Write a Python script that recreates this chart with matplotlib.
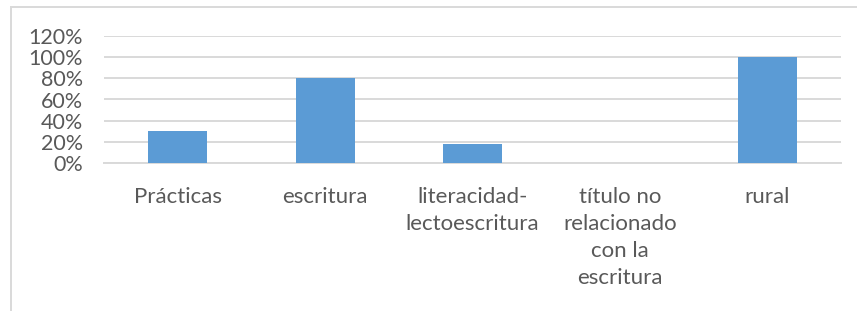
import matplotlib.pyplot as plt
from matplotlib.patches import Rectangle
from matplotlib.ticker import PercentFormatter, MultipleLocator

# Data
categories = [
    "Prácticas",
    "escritura",
    "literacidad-\nlectoescritura",
    "título no\nrelacionado\ncon la\nescritura",
    "rural",
]
values = [0.30, 0.80, 0.18, 0.0, 1.00]

BAR_COLOR = "#5B9BD5"
GRID_COLOR = "#D9D9D9"
TEXT_COLOR = "#595959"

plt.rcParams["font.family"] = ["Lato", "DejaVu Sans"]

fig = plt.figure(figsize=(8.57, 3.11), dpi=100)
W, H = 857, 311
ax = fig.add_axes([104 / W, 1 - 163 / H, (841 - 104) / W, (163 - 36) / H])

x = range(len(categories))
ax.bar(x, values, width=0.4, color=BAR_COLOR, zorder=3)

ax.set_xlim(-0.5, len(categories) - 0.5)
ax.set_ylim(0, 1.2)
ax.yaxis.set_major_locator(MultipleLocator(0.2))
ax.yaxis.set_major_formatter(PercentFormatter(1.0, decimals=0))
ax.grid(axis="y", color=GRID_COLOR, linewidth=1.4, zorder=0)

ax.set_xticks(list(x))
ax.set_xticklabels(categories, linespacing=1.45)
ax.tick_params(axis="x", length=0, pad=17, labelsize=16, labelcolor=TEXT_COLOR)
ax.tick_params(axis="y", length=0, pad=15, labelsize=15.5, labelcolor=TEXT_COLOR)

for side in ["top", "right", "left"]:
    ax.spines[side].set_visible(False)
ax.spines["bottom"].set_color(GRID_COLOR)
ax.spines["bottom"].set_linewidth(1.4)

# Outer chart frame (extends past the right and bottom of the image)
fig.patches.append(Rectangle((11 / W, -0.1), 1.2, 1 - 7 / H + 0.1,
                             transform=fig.transFigure, fill=False,
                             edgecolor=GRID_COLOR, linewidth=1.4))

fig.savefig("out.png", dpi=100, facecolor="white")
